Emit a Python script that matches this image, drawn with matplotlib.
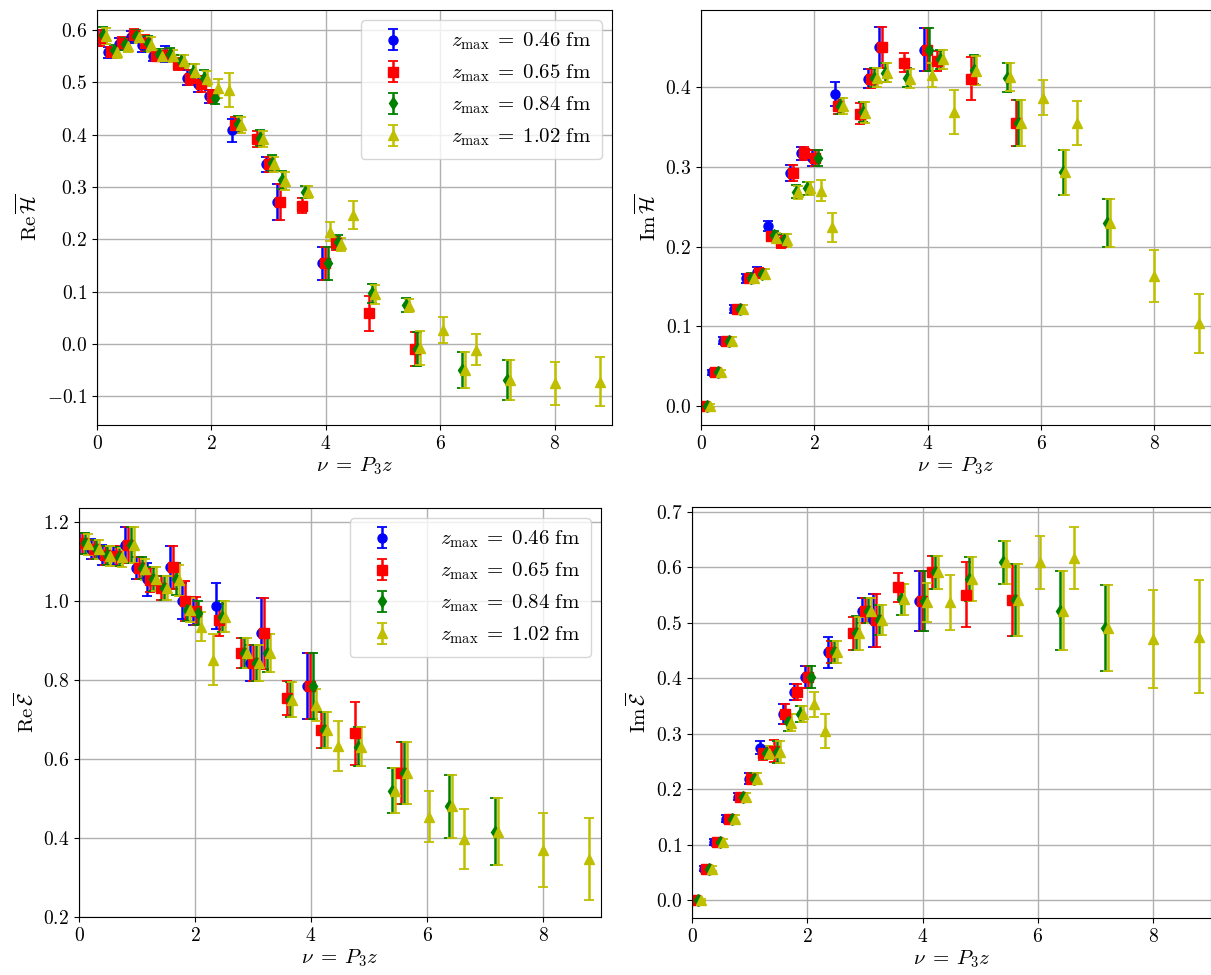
import matplotlib
matplotlib.use("Agg")
import matplotlib.pyplot as plt

plt.rcParams["font.family"] = "serif"
plt.rcParams["font.serif"] = ["cmr10"]
plt.rcParams["mathtext.fontset"] = "cm"
plt.rcParams["axes.formatter.use_mathtext"] = True
plt.rcParams["font.size"] = 14

# nu = P3 z for each z_max data set
NU_046 = [0.0, 0.20, 0.39, 0.59, 0.79, 0.98, 1.18, 1.57, 1.77, 1.96, 2.36, 2.95, 3.14, 3.93]
NU_065 = [0.0, 0.20, 0.39, 0.59, 0.79, 0.98, 1.18, 1.37, 1.57, 1.77, 1.96, 2.36, 2.75, 2.95,
          3.14, 3.53, 3.93, 4.12, 4.71, 5.50]
NU_084 = [0.0, 0.20, 0.39, 0.59, 0.79, 0.98, 1.18, 1.37, 1.57, 1.77, 1.96, 2.36, 2.75, 2.95,
          3.14, 3.53, 3.93, 4.12, 4.71, 5.30, 5.50, 6.28, 7.07]
NU_102 = [0.0, 0.20, 0.39, 0.59, 0.79, 0.98, 1.18, 1.37, 1.57, 1.77, 1.96, 2.16, 2.36, 2.75,
          2.95, 3.14, 3.53, 3.93, 4.12, 4.32, 4.71, 5.30, 5.50, 5.89, 6.28, 6.48, 7.07, 7.85, 8.64]

ZMAX = ["0.46", "0.65", "0.84", "1.02"]

# Re H
REH_046 = [0.585, 0.557, 0.573, 0.586, 0.572, 0.551, 0.554, 0.509, 0.497, 0.473, 0.408, 0.343, 0.271, 0.154]
REH_046_ERR = [.015, .010, .012, .012, .015, .010, .015, .015, .015, .012, .022, .015, .035, .032]
REH_065 = [0.585, 0.558, 0.575, 0.590, 0.575, 0.551, 0.552, 0.535, 0.509, 0.497, 0.473, 0.418, 0.392,
           0.343, 0.271, 0.264, 0.154, 0.192, 0.0585, -0.010]
REH_065_ERR = [.015, .010, .012, .012, .015, .010, .012, .012, .015, .015, .012, .015, .015, .015,
               .035, .014, .032, .013, .033, .033]
REH_084 = [0.590, 0.562, 0.573, 0.588, 0.574, 0.553, 0.553, 0.540, 0.520, 0.509, 0.470, 0.420, 0.394,
           0.345, 0.313, 0.290, 0.154, 0.195, 0.097, 0.0745, -0.010, -0.050, -0.069]
REH_084_ERR = [.015, .010, .012, .012, .015, .010, .012, .012, .015, .015, .012, .015, .015, .015,
               .017, .012, .032, .013, .018, .013, .033, .035, .038]
REH_102 = [0.588, 0.557, 0.570, 0.586, 0.572, 0.551, 0.550, 0.540, 0.520, 0.507, 0.488, 0.485, 0.418,
           0.392, 0.343, 0.312, 0.290, 0.214, 0.190, 0.246, 0.095, 0.073, -0.008, 0.027, -0.050,
           -0.011, -0.069, -0.075, -0.072]
REH_102_ERR = [.015, .010, .012, .012, .015, .010, .012, .012, .015, .015, .018, .033, .015, .015,
               .015, .017, .012, .018, .013, .027, .018, .013, .033, .025, .035, .030, .038, .041, .047]

# Im H
IMH_046 = [0.0, 0.042, 0.082, 0.122, 0.160, 0.168, 0.226, 0.292, 0.317, 0.311, 0.391, 0.411, 0.450, 0.447]
IMH_046_ERR = [.002, .003, .004, .005, .006, .006, .006, .010, .008, .010, .015, .012, .026, .027]
IMH_065 = [0.0, 0.042, 0.082, 0.122, 0.160, 0.167, 0.213, 0.206, 0.292, 0.317, 0.311, 0.376, 0.367,
           0.411, 0.450, 0.431, 0.447, 0.433, 0.411, 0.355]
IMH_065_ERR = [.002, .003, .004, .005, .006, .006, .006, .008, .010, .008, .010, .010, .013, .012,
               .026, .012, .027, .012, .027, .029]
IMH_084 = [0.0, 0.042, 0.082, 0.122, 0.161, 0.166, 0.214, 0.208, 0.269, 0.273, 0.311, 0.376, 0.369,
           0.412, 0.418, 0.412, 0.447, 0.435, 0.422, 0.412, 0.355, 0.293, 0.230]
IMH_084_ERR = [.002, .003, .004, .005, .006, .006, .006, .008, .008, .008, .010, .010, .013, .012,
               .012, .012, .027, .012, .018, .018, .029, .028, .030]
IMH_102 = [0.0, 0.042, 0.082, 0.122, 0.160, 0.166, 0.211, 0.208, 0.268, 0.273, 0.270, 0.224, 0.376,
           0.368, 0.412, 0.418, 0.411, 0.415, 0.435, 0.369, 0.421, 0.413, 0.355, 0.387, 0.293,
           0.355, 0.230, 0.163, 0.104]
IMH_102_ERR = [.002, .003, .004, .005, .006, .006, .006, .008, .008, .008, .013, .018, .010, .013,
               .012, .012, .012, .015, .012, .028, .018, .018, .029, .022, .028, .028, .030, .033, .037]

# Re E
REE_046 = [1.146, 1.131, 1.117, 1.115, 1.142, 1.083, 1.055, 1.085, 1.000, 0.975, 0.986, 0.843, 0.918, 0.785]
REE_046_ERR = [.027, .025, .025, .025, .045, .027, .042, .055, .045, .035, .058, .045, .090, .084]
REE_065 = [1.146, 1.130, 1.115, 1.113, 1.142, 1.083, 1.052, 1.032, 1.085, 1.000, 0.975, 0.952, 0.868,
           0.843, 0.918, 0.754, 0.785, 0.673, 0.665, 0.564]
REE_065_ERR = [.027, .025, .025, .025, .045, .027, .030, .030, .055, .050, .035, .040, .037, .045,
               .090, .044, .084, .046, .080, .079]
REE_084 = [1.146, 1.130, 1.115, 1.112, 1.142, 1.083, 1.055, 1.032, 1.055, 0.978, 0.969, 0.960, 0.868,
           0.843, 0.868, 0.750, 0.785, 0.673, 0.631, 0.520, 0.564, 0.480, 0.416]
REE_084_ERR = [.027, .025, .025, .025, .045, .027, .030, .030, .040, .030, .030, .040, .037, .045,
               .048, .044, .084, .046, .050, .056, .079, .080, .085]
REE_102 = [1.143, 1.130, 1.113, 1.110, 1.142, 1.080, 1.055, 1.032, 1.052, 0.977, 0.935, 0.851, 0.960,
           0.868, 0.843, 0.868, 0.750, 0.737, 0.673, 0.633, 0.631, 0.520, 0.564, 0.454, 0.480,
           0.397, 0.416, 0.370, 0.346]
REE_102_ERR = [.027, .025, .025, .025, .045, .027, .030, .030, .040, .030, .037, .065, .040, .037,
               .045, .048, .044, .040, .046, .063, .050, .056, .079, .065, .080, .076, .085, .094, .104]

# Im E
IME_046 = [0.0, 0.057, 0.105, 0.147, 0.187, 0.219, 0.275, 0.336, 0.375, 0.402, 0.447, 0.522, 0.505, 0.540]
IME_046_ERR = [.002, .004, .005, .006, .007, .010, .012, .018, .014, .020, .028, .023, .048, .054]
IME_065 = [0.0, 0.057, 0.105, 0.147, 0.187, 0.219, 0.265, 0.269, 0.336, 0.375, 0.402, 0.447, 0.481,
           0.522, 0.505, 0.564, 0.540, 0.591, 0.551, 0.541]
IME_065_ERR = [.002, .004, .005, .006, .007, .010, .012, .020, .018, .014, .020, .020, .030, .023,
               .048, .026, .054, .030, .058, .065]
IME_084 = [0.0, 0.057, 0.105, 0.147, 0.187, 0.219, 0.266, 0.268, 0.321, 0.336, 0.402, 0.448, 0.482,
           0.522, 0.505, 0.543, 0.540, 0.591, 0.579, 0.609, 0.541, 0.522, 0.491]
IME_084_ERR = [.002, .004, .005, .006, .007, .010, .012, .020, .015, .015, .020, .020, .030, .023,
               .027, .028, .054, .030, .040, .039, .065, .071, .078]
IME_102 = [0.0, 0.057, 0.105, 0.147, 0.187, 0.219, 0.266, 0.268, 0.320, 0.336, 0.353, 0.305, 0.447,
           0.481, 0.522, 0.505, 0.543, 0.537, 0.591, 0.537, 0.579, 0.609, 0.541, 0.609, 0.522,
           0.617, 0.491, 0.471, 0.475]
IME_102_ERR = [.002, .004, .005, .006, .007, .010, .012, .020, .015, .015, .022, .031, .020, .030,
               .023, .027, .028, .035, .030, .050, .040, .039, .065, .047, .071, .056, .078, .088, .102]

NUS = [NU_046, NU_065, NU_084, NU_102]
STYLES = [("b", "o"), ("r", "s"), ("g", "d"), ("y", "^")]
SHIFTS = [0.0, 0.05, 0.10, 0.15]

panels = [
    ([REH_046, REH_065, REH_084, REH_102], [REH_046_ERR, REH_065_ERR, REH_084_ERR, REH_102_ERR],
     r"$\mathrm{Re}\,\overline{\mathcal{H}}$", [97, 10, 612, 425], (-0.155, 0.638), True),
    ([IMH_046, IMH_065, IMH_084, IMH_102], [IMH_046_ERR, IMH_065_ERR, IMH_084_ERR, IMH_102_ERR],
     r"$\mathrm{Im}\,\overline{\mathcal{H}}$", [701, 10, 1211, 425], (-0.024, 0.497), False),
    ([REE_046, REE_065, REE_084, REE_102], [REE_046_ERR, REE_065_ERR, REE_084_ERR, REE_102_ERR],
     r"$\mathrm{Re}\,\overline{\mathcal{E}}$", [79, 508, 601, 917], (0.2, 1.235), True),
    ([IME_046, IME_065, IME_084, IME_102], [IME_046_ERR, IME_065_ERR, IME_084_ERR, IME_102_ERR],
     r"$\mathrm{Im}\,\overline{\mathcal{E}}$", [692, 507, 1211, 918], (-0.032, 0.709), False),
]

W, H = 1211, 975
fig = plt.figure(figsize=(W / 100, H / 100), dpi=100)

for vals, errs, ylabel, box, ylim, show_legend in panels:
    x0, y0, x1, y1 = box
    ax = fig.add_axes([x0 / W, 1 - y1 / H, (x1 - x0) / W, (y1 - y0) / H])
    for i in range(4):
        c, m = STYLES[i]
        ax.errorbar([v + SHIFTS[i] for v in NUS[i]], vals[i], yerr=errs[i], fmt=m, color=c,
                    ms=6.5, capsize=3.5, elinewidth=1.8, capthick=1.3,
                    label=r"$z_{\mathrm{max}}\;=\;%s\ \mathrm{fm}$" % ZMAX[i])
    ax.set_xlim(0, 9)
    ax.set_ylim(*ylim)
    ax.set_xticks([0, 2, 4, 6, 8])
    ax.grid(True, color="#b0b0b0", lw=1)
    ax.set_axisbelow(True)
    ax.set_xlabel(r"$\nu\;=\;P_3 z$", fontsize=15, labelpad=2)
    ax.set_ylabel(ylabel, fontsize=15)
    if show_legend:
        ax.legend(loc="upper right", fontsize=15, handletextpad=1.8, borderpad=0.5)

fig.savefig("out.png", dpi=100)
